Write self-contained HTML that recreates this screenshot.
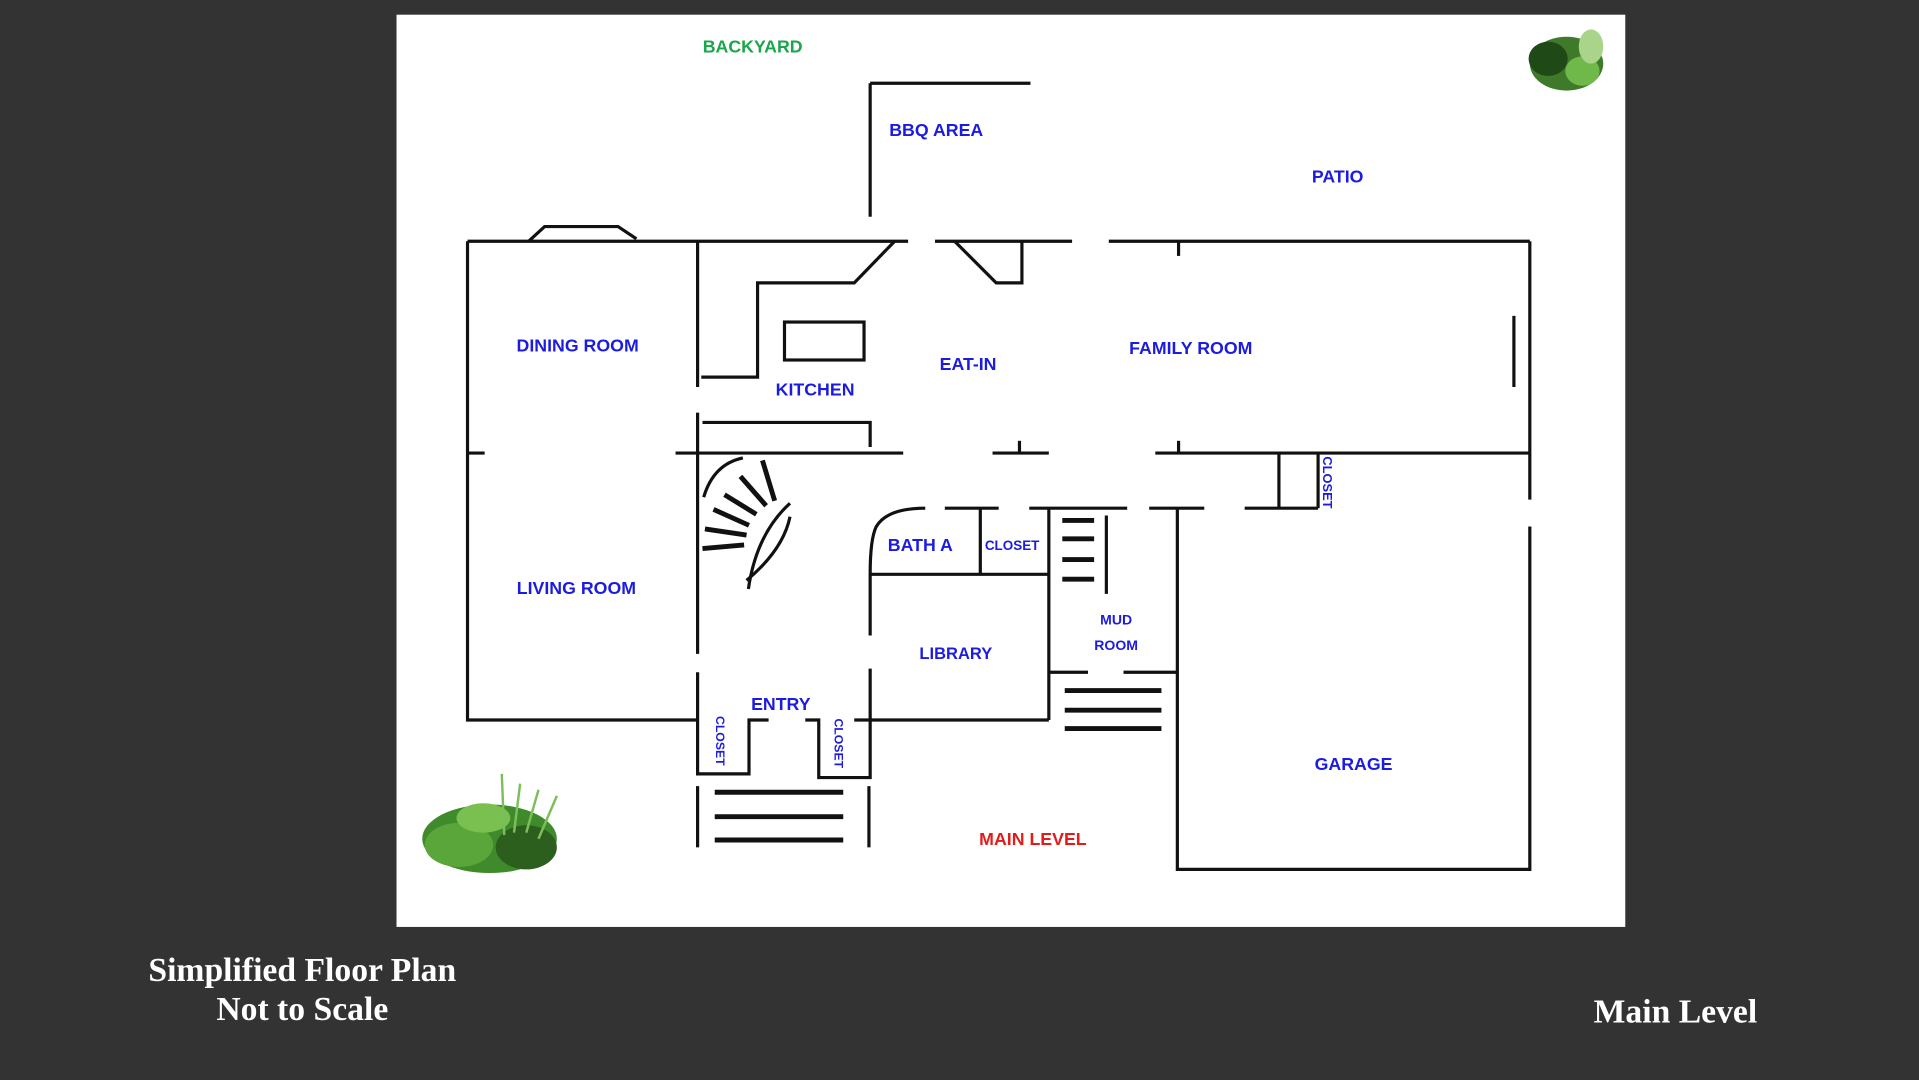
<!DOCTYPE html>
<html><head><meta charset="utf-8"><style>
html,body{margin:0;padding:0;background:#333;overflow:hidden}
svg{display:block}
.w{stroke:#111;stroke-width:2.6;fill:none;stroke-linecap:butt}
.s{stroke:#111;stroke-width:4.5;fill:none}
.t{font-family:"Liberation Sans",sans-serif;font-weight:bold;fill:#1c1ce0;font-size:14.5px;text-anchor:middle}
.c{font-family:"Liberation Serif",serif;font-weight:bold;fill:#fff;font-size:27.5px;text-anchor:middle}
</style></head><body>
<svg width="1919" height="1080" viewBox="0 0 1568 882" preserveAspectRatio="none" xmlns="http://www.w3.org/2000/svg">
<rect x="0" y="0" width="1568" height="882" fill="#333"/>
<rect x="324" y="12" width="1004" height="745" fill="#fff"/>
<g class="w">
<path d="M382 197 H742"/><path d="M432 197 L445 185 H505 L520 195"/>
<path d="M764 197 H876"/><path d="M906 197 H1250"/><path d="M963 197 V209"/>
<path d="M780 197 L814 231 H835 V197"/>
<path d="M731 197 L698 231 H619 V308 H573"/><path d="M570 197 V316"/>
<rect x="641" y="263" width="65" height="31"/>
<path d="M711 68 H842"/><path d="M711 68 V177"/>
<path d="M382 197 V588 H570"/><path d="M382 370 H396"/>
<path d="M552 370 H738"/><path d="M570 337 V370"/>
<path d="M574 345 H711 V365"/>
<path d="M811 370 H857"/><path d="M833 360 V370"/>
<path d="M944 370 H1250"/><path d="M963 360 V370"/>
<path d="M1250 197 V408"/><path d="M1237 258 V316"/>
<path d="M1045 370 V415"/><path d="M1077 370 V415"/><path d="M1017 415 H1077"/>
<path d="M570 370 V534"/><path d="M570 549 V632 H612 V588 H628"/>
<path d="M658 588 H669 V635 H711 V546"/><path d="M698 588 H857"/>
<path d="M756 415 Q725 415 716 430 Q711 440 711 469 V519"/>
<path d="M711 469 H857"/><path d="M801 415 V469"/>
<path d="M772 415 H816"/><path d="M841 415 H921"/><path d="M939 415 H984"/>
<path d="M857 415 V588"/><path d="M904 421 V485"/>
<path d="M857 549 H889"/><path d="M918 549 H962"/>
<path d="M962 415 V710 H1250 V430"/>
<path d="M570 642 V692"/><path d="M710 642 V692"/>
<path d="M575 406 Q583 379 607 374"/>
<path d="M611.5 481 Q618 436 645.5 411"/>
<path d="M610 474 Q640 449 645.5 422"/>
</g>
<g class="s" style="stroke-width:4">
<path d="M868 425 H894 M868 440 H894 M868 457 H894 M868 473 H894"/>
<path d="M870 564 H949 M870 580 H949 M870 595 H949"/>
<path d="M584 647 H689 M584 667 H689 M584 686 H689"/>
<path d="M574 448 L608 445 M576 432 L610 437 M583 416 L612 429 M592 404 L618 420 M605 389 L626 413 M623 376 L633 409"/>
</g>
<text class="t" x="615" y="43" style="fill:#1aa64b">BACKYARD</text>
<text class="t" x="765" y="111">BBQ AREA</text>
<text class="t" x="1093" y="149">PATIO</text>
<text class="t" x="472" y="287">DINING ROOM</text>
<text class="t" x="666" y="323">KITCHEN</text>
<text class="t" x="791" y="302">EAT-IN</text>
<text class="t" x="973" y="289">FAMILY ROOM</text>
<text class="t" x="471" y="485">LIVING ROOM</text>
<text class="t" x="752" y="450">BATH A</text>
<text class="t" x="827" y="449" style="font-size:11px">CLOSET</text>
<text class="t" x="912" y="510" style="font-size:11.5px">MUD</text>
<text class="t" x="912" y="531" style="font-size:11.5px">ROOM</text>
<text class="t" x="781" y="538" style="font-size:13.5px">LIBRARY</text>
<text class="t" x="638" y="580">ENTRY</text>
<text class="t" x="1106" y="629">GARAGE</text>
<text class="t" x="844" y="690" style="fill:#e31b1b">MAIN LEVEL</text>
<text class="t" transform="translate(1081,394) rotate(90)" style="font-size:10.5px">CLOSET</text>
<text class="t" transform="translate(585,605) rotate(90)" style="font-size:10px">CLOSET</text>
<text class="t" transform="translate(682,607) rotate(90)" style="font-size:10px">CLOSET</text>
<g>
<ellipse cx="1280" cy="52" rx="30" ry="22" fill="#3e7a2a"/>
<ellipse cx="1265" cy="48" rx="16" ry="14" fill="#1f4a18"/>
<ellipse cx="1293" cy="58" rx="14" ry="12" fill="#6fb84a"/>
<ellipse cx="1300" cy="38" rx="10" ry="14" fill="#a9d48a"/>
</g>
<g>
<ellipse cx="400" cy="685" rx="55" ry="28" fill="#3f8a2a"/>
<ellipse cx="375" cy="690" rx="28" ry="18" fill="#5aa63a"/>
<ellipse cx="430" cy="692" rx="25" ry="18" fill="#2c5e1e"/>
<ellipse cx="395" cy="668" rx="22" ry="12" fill="#79c050"/>
<path d="M420 680 L425 640 M430 680 L440 645 M440 685 L455 650 M412 682 L410 632" stroke="#7cbf5a" stroke-width="2" fill="none"/>
</g>
<text class="c" x="247" y="801">Simplified Floor Plan</text>
<text class="c" x="247" y="833">Not to Scale</text>
<text class="c" x="1369" y="835">Main Level</text>
</svg>
</body></html>
